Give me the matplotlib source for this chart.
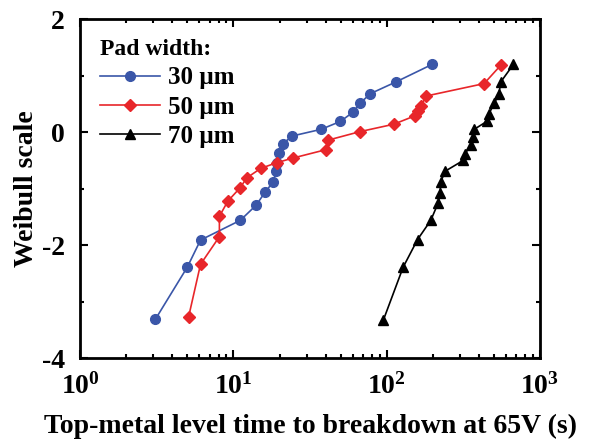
import numpy as np
import matplotlib
matplotlib.use("Agg")
import matplotlib.pyplot as plt
from matplotlib.ticker import LogLocator, FixedLocator, FuncFormatter, NullFormatter

plt.rcParams["font.family"] = "Liberation Serif"
plt.rcParams["font.weight"] = "bold"
plt.rcParams["mathtext.fontset"] = "custom"
plt.rcParams["mathtext.rm"] = "Liberation Serif:bold"
plt.rcParams["mathtext.bf"] = "Liberation Serif:bold"
plt.rcParams["axes.unicode_minus"] = False

# data
t30 = [3.1, 5.0, 6.1, 11.1, 14.1, 16.1, 18.2, 19.0, 19.3, 19.9, 21, 24, 37.3, 49.9, 60, 67, 78, 115, 198]
w30 = [-3.31, -2.39, -1.91, -1.56, -1.29, -1.06, -0.88, -0.69, -0.54, -0.36, -0.21, -0.07, 0.05, 0.19, 0.35, 0.51, 0.68, 0.89, 1.20]

t50 = [5.1, 6.1, 8.1, 8.1, 9.2, 11.1, 12.2, 15.1, 19.2, 24.3, 40.1, 41.6, 67, 111, 153, 161, 167, 181, 432, 557]
w50 = [-3.27, -2.34, -1.85, -1.49, -1.22, -0.98, -0.81, -0.64, -0.54, -0.46, -0.31, -0.14, 0.01, 0.14, 0.29, 0.37, 0.46, 0.64, 0.86, 1.19]

t70 = [95, 128, 159, 194, 216, 223, 225, 241, 316, 323, 357, 365, 372, 450, 466, 502, 539, 555, 671]
w70 = [-3.33, -2.39, -1.90, -1.56, -1.26, -1.07, -0.88, -0.69, -0.50, -0.38, -0.23, -0.09, 0.05, 0.19, 0.33, 0.51, 0.67, 0.89, 1.20]

fig = plt.figure(figsize=(5.98, 4.46), dpi=100)
ax = fig.add_axes([0.134, 0.197, 0.769, 0.76])

ax.plot(t30, w30, "-o", color="#3a56a8", ms=7, lw=1.2, label="30 µm")
ax.plot(t50, w50, "-D", color="#e8262a", ms=6, lw=1.2, label="50 µm")
ax.plot(t70, w70, "-^", color="black", ms=7, lw=1.2, label="70 µm")

ax.set_xscale("log")
ax.set_xlim(1, 1000)
ax.set_ylim(-4, 2)
ax.xaxis.set_major_locator(LogLocator(base=10, numticks=10))
ax.xaxis.set_minor_locator(LogLocator(base=10, subs=np.arange(2, 10), numticks=10))
ax.xaxis.set_major_formatter(FuncFormatter(lambda v, p: r"$\mathbf{10^{%d}}$" % int(round(np.log10(v)))))
ax.xaxis.set_minor_formatter(NullFormatter())
ax.yaxis.set_major_locator(FixedLocator([-4, -2, 0, 2]))
ax.yaxis.set_minor_locator(FixedLocator([-3, -1, 1]))

ax.tick_params(which="both", direction="in", top=True, right=True, labelsize=20, width=1.5)
ax.tick_params(which="major", length=6)
ax.tick_params(which="minor", length=3)
ax.tick_params(axis="x", which="major", pad=11)
ax.tick_params(axis="y", which="major", pad=11)
for s in ax.spines.values():
    s.set_linewidth(2)

ax.set_xlabel("Top-metal level time to breakdown at 65V (s)", fontsize=20, fontweight="bold", labelpad=10)
ax.set_ylabel("Weibull scale", fontsize=20, fontweight="bold", labelpad=2)

leg = ax.legend(title="Pad width:", loc="upper left", frameon=False, fontsize=18,
                title_fontproperties={"size": 17, "weight": "bold"},
                handlelength=2.4, handletextpad=0.3, labelspacing=0.25, borderaxespad=0.4)
leg._legend_box.align = "left"

fig.savefig("out.png", dpi=100)
